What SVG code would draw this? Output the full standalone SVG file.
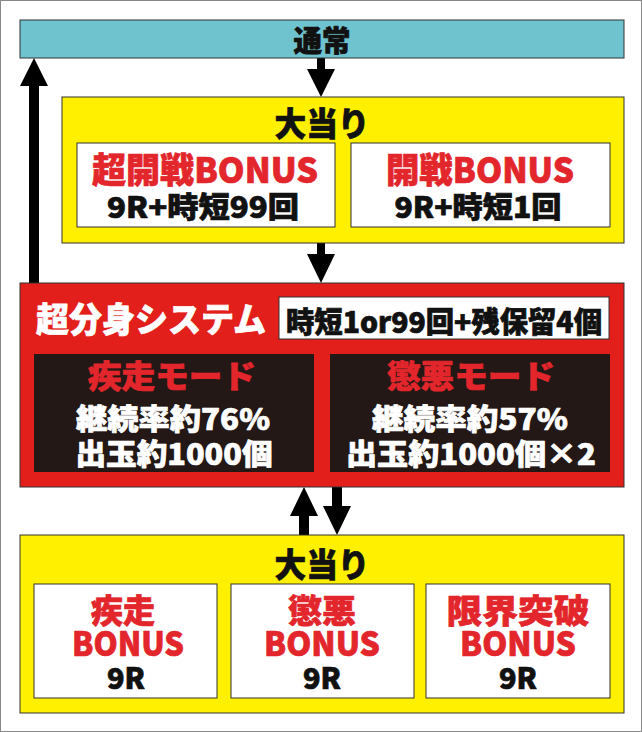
<svg xmlns="http://www.w3.org/2000/svg" width="642" height="732" viewBox="0 0 642 732">
<style>
text{font-family:"Noto Sans CJK JP","Noto Sans",sans-serif;font-weight:900;text-anchor:middle;stroke-width:0.7;stroke-linejoin:round}
.k{fill:#111;stroke:#111}
.r{fill:#E3262C;stroke:#E3262C}
.w{fill:#fff;stroke:#fff}
.box{stroke:#333;stroke-width:1}
.yel{fill:#FFF000}
.wht{fill:#fff}
.dk{fill:#231815}
.arr{fill:#000}
</style>
<rect x="0.5" y="0.5" width="641" height="731" fill="#fff" stroke="#888" stroke-width="1"/>
<g id="connectors" class="arr">
  <polygon points="29,283 29,86 20,86 34,58 48,86 39,86 39,283"/>
  <polygon points="317,58 317,69 307,69 321,97 335,69 325,69 325,58"/>
  <polygon points="317,243 317,254 307,254 321,283 335,254 325,254 325,243"/>
  <polygon points="299,535 299,516 290,516 304,487 318,516 309,516 309,535"/>
  <polygon points="332,487 332,506 323,506 337,535 351,506 342,506 342,487"/>
</g>
<g id="normal">
  <rect class="box" x="20" y="20" width="604" height="38" fill="#6EC3CE"/>
  <text class="k" x="322" y="52" font-size="29" textLength="57" lengthAdjust="spacingAndGlyphs">通常</text>
</g>
<g id="hit1">
  <rect class="box yel" x="62" y="97" width="562" height="146"/>
  <text class="k" x="322" y="136" font-size="33" textLength="95" lengthAdjust="spacingAndGlyphs">大当り</text>
</g>
<g id="super-kaisen">
  <rect class="box wht" x="77" y="143" width="258" height="84"/>
  <text class="r" x="205" y="183" font-size="35" textLength="226" lengthAdjust="spacingAndGlyphs">超開戦BONUS</text>
  <text class="k" x="203" y="218" font-size="29" textLength="192" lengthAdjust="spacingAndGlyphs">9R+時短99回</text>
</g>
<g id="kaisen">
  <rect class="box wht" x="351" y="143" width="259" height="84"/>
  <text class="r" x="480" y="183" font-size="35" textLength="188" lengthAdjust="spacingAndGlyphs">開戦BONUS</text>
  <text class="k" x="478" y="218" font-size="29" textLength="167" lengthAdjust="spacingAndGlyphs">9R+時短1回</text>
</g>
<g id="bunshin">
  <rect class="box" x="20" y="283" width="604" height="204" fill="#E31F1B"/>
  <text class="w" x="151" y="332" font-size="34" textLength="230" lengthAdjust="spacingAndGlyphs">超分身システム</text>
  <rect class="box wht" x="279" y="297" width="330" height="42"/>
  <text class="k" x="444" y="333" font-size="29" textLength="316" lengthAdjust="spacingAndGlyphs">時短1or99回+残保留4個</text>
</g>
<g id="shisso-mode">
  <rect class="dk" x="34" y="354" width="280" height="118"/>
  <text class="r" x="172" y="388" font-size="32" textLength="168" lengthAdjust="spacingAndGlyphs">疾走モード</text>
  <text class="w" x="173" y="430" font-size="29" textLength="194" lengthAdjust="spacingAndGlyphs">継続率約76%</text>
  <text class="w" x="174" y="465" font-size="29" textLength="197" lengthAdjust="spacingAndGlyphs">出玉約1000個</text>
</g>
<g id="choaku-mode">
  <rect class="dk" x="330" y="354" width="280" height="118"/>
  <text class="r" x="471" y="388" font-size="32" textLength="168" lengthAdjust="spacingAndGlyphs">懲悪モード</text>
  <text class="w" x="470" y="430" font-size="29" textLength="196" lengthAdjust="spacingAndGlyphs">継続率約57%</text>
  <text class="w" x="471" y="465" font-size="29" textLength="250" lengthAdjust="spacingAndGlyphs">出玉約1000個×2</text>
</g>
<g id="hit2">
  <rect class="box yel" x="20" y="535" width="604" height="178"/>
  <text class="k" x="322" y="577" font-size="33" textLength="95" lengthAdjust="spacingAndGlyphs">大当り</text>
</g>
<g id="shisso-bonus">
  <rect class="box wht" x="34" y="584" width="183" height="114"/>
  <text class="r" x="123" y="623" font-size="33" textLength="64" lengthAdjust="spacingAndGlyphs">疾走</text>
  <text class="r" x="128" y="656" font-size="33" textLength="112" lengthAdjust="spacingAndGlyphs">BONUS</text>
  <text class="k" x="126" y="689" font-size="29" textLength="38" lengthAdjust="spacingAndGlyphs">9R</text>
</g>
<g id="choaku-bonus">
  <rect class="box wht" x="231" y="584" width="183" height="114"/>
  <text class="r" x="322" y="623" font-size="33" textLength="68" lengthAdjust="spacingAndGlyphs">懲悪</text>
  <text class="r" x="322" y="656" font-size="33" textLength="116" lengthAdjust="spacingAndGlyphs">BONUS</text>
  <text class="k" x="322" y="689" font-size="29" textLength="38" lengthAdjust="spacingAndGlyphs">9R</text>
</g>
<g id="genkai-bonus">
  <rect class="box wht" x="426" y="584" width="184" height="114"/>
  <text class="r" x="518" y="623" font-size="33" textLength="143" lengthAdjust="spacingAndGlyphs">限界突破</text>
  <text class="r" x="518" y="656" font-size="33" textLength="116" lengthAdjust="spacingAndGlyphs">BONUS</text>
  <text class="k" x="518" y="689" font-size="29" textLength="38" lengthAdjust="spacingAndGlyphs">9R</text>
</g>
</svg>
